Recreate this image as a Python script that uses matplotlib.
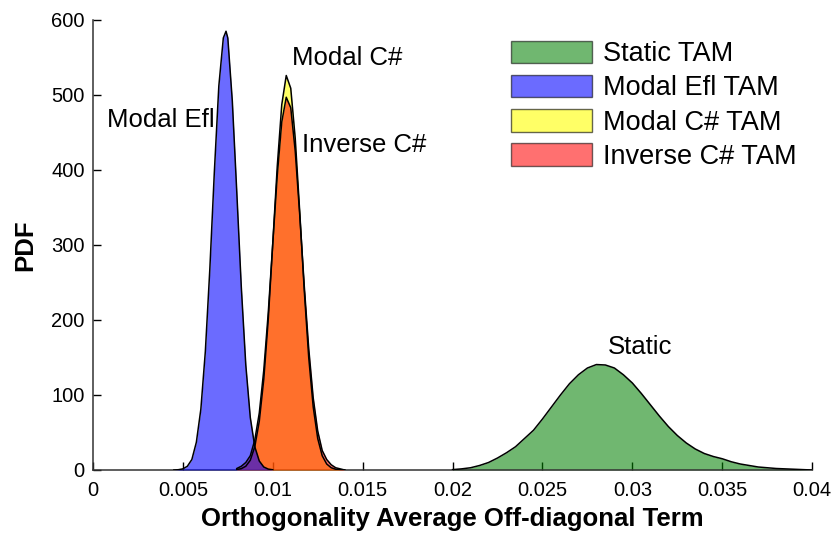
import numpy as np
import matplotlib
matplotlib.use('Agg')
import matplotlib.pyplot as plt
from matplotlib.patches import Patch

plt.rcParams['font.family'] = ['Liberation Sans', 'DejaVu Sans']

# ---- data ----
x_narrow = [0.00450, 0.00475, 0.00500, 0.00525, 0.00550, 0.00575, 0.00600, 0.00625,
            0.00650, 0.00675, 0.00700, 0.00725, 0.00740, 0.00750, 0.00775, 0.00800,
            0.00825, 0.00850, 0.00875, 0.00900, 0.00925, 0.00950, 0.00975, 0.01000]
pdf_modal_efl = [0, 0.4, 1.5, 5, 14, 37, 81, 158,
                 268, 397, 512, 576, 585, 576, 492, 370,
                 244, 140, 70, 31, 12, 4, 1.2, 0.3]

x_csharp = [0.00800, 0.00825, 0.00850, 0.00875, 0.00900, 0.00925, 0.00950, 0.00975,
            0.01000, 0.01025, 0.01050, 0.01075, 0.01100, 0.01125, 0.01150, 0.01175,
            0.01200, 0.01225, 0.01250, 0.01275, 0.01300, 0.01325, 0.01350, 0.01375,
            0.01400]
pdf_modal_c = [0.6, 1.8, 5, 13, 31, 65, 121, 201,
               302, 405, 487, 526, 509, 442, 344, 240,
               150, 84, 42, 19, 8, 3, 1, 0.3,
               0]
pdf_inverse_c = [2, 5, 10, 19, 40, 76, 133, 210,
                 302, 393, 464, 497, 483, 425, 340, 246,
                 162, 96, 52, 26, 14, 7, 3, 1.5,
                 0]

x_static = [0.0200, 0.0205, 0.0210, 0.0215, 0.0220, 0.0225, 0.0230, 0.0235, 0.0240,
            0.0245, 0.0250, 0.0255, 0.0260, 0.0265, 0.0270, 0.0275, 0.0280, 0.0285,
            0.0290, 0.0295, 0.0300, 0.0305, 0.0310, 0.0315, 0.0320, 0.0325, 0.0330,
            0.0335, 0.0340, 0.0345, 0.0350, 0.0355, 0.0360, 0.0365, 0.0370, 0.0375,
            0.0380, 0.0385, 0.0390, 0.0395, 0.0400]
pdf_static = [0.5, 1.5, 3, 6, 10, 16, 23, 31, 42,
              53, 68, 84, 100, 115, 127, 136, 140.6, 140,
              136, 127, 116, 102, 87, 72, 58, 46, 36,
              28, 22, 18, 15, 11, 8, 6, 4, 3,
              2, 1.5, 1, 0.5, 0]

legend_labels = ['Static TAM', 'Modal Efl TAM', 'Modal C# TAM', 'Inverse C# TAM']
xtick_vals = [0, 0.005, 0.01, 0.015, 0.02, 0.025, 0.03, 0.035, 0.04]
xtick_labels = ['0', '0.005', '0.01', '0.015', '0.02', '0.025', '0.03', '0.035', '0.04']
ytick_vals = [0, 100, 200, 300, 400, 500, 600]

# ---- plot ----
fig = plt.figure(figsize=(8.33, 5.33), dpi=100)
ax = fig.add_axes([0.1116, 0.1182, 0.8634, 0.8443])

alpha = 0.56
c_green = (0, 0.5, 0)
c_blue = (0, 0, 1)
c_yellow = (1, 1, 0)
c_red = (1, 0, 0)

ax.fill_between(x_static, pdf_static, color=c_green, alpha=alpha, lw=0, zorder=2)
ax.fill_between(x_csharp, pdf_modal_c, color=c_yellow, alpha=0.6, lw=0, zorder=3)
ax.fill_between(x_csharp, pdf_inverse_c, color=c_red, alpha=alpha, lw=0, zorder=4)
ax.fill_between(x_narrow, pdf_modal_efl, color=c_blue, alpha=0.58, lw=0, zorder=5)

for xs, ys in [(x_static, pdf_static), (x_csharp, pdf_modal_c),
               (x_csharp, pdf_inverse_c), (x_narrow, pdf_modal_efl)]:
    ax.plot(xs, ys, color='black', lw=1.1, zorder=6)

# annotations
ax.text(0.00078, 467, 'Modal Efl', fontsize=18.5, va='center', ha='left')
ax.text(0.01107, 549, 'Modal C#', fontsize=18.5, va='center', ha='left')
ax.text(0.01163, 433, 'Inverse C#', fontsize=18.5, va='center', ha='left')
ax.text(0.0304, 164, 'Static', fontsize=18.5, va='center', ha='center')

handles = [Patch(facecolor=c_green, alpha=alpha, edgecolor='black'),
           Patch(facecolor=c_blue, alpha=0.58, edgecolor='black'),
           Patch(facecolor=c_yellow, alpha=0.6, edgecolor='black'),
           Patch(facecolor=c_red, alpha=alpha, edgecolor='black')]
ax.legend(handles, legend_labels, loc='upper right', bbox_to_anchor=(0.993, 0.978),
          frameon=False, fontsize=19.5, handlelength=3.0, handleheight=0.9,
          handletextpad=0.4, labelspacing=0.28, borderaxespad=0)

ax.set_xlim(0, 0.04)
ax.set_ylim(0, 600)
ax.set_xticks(xtick_vals)
ax.set_xticklabels(xtick_labels)
ax.set_yticks(ytick_vals)
ax.tick_params(direction='in', length=6, width=1, labelsize=14.5, colors='black')
ax.tick_params(axis='x', pad=8)
ax.tick_params(axis='y', pad=6)
for s in ['top', 'right']:
    ax.spines[s].set_visible(False)
for s in ['left', 'bottom']:
    ax.spines[s].set_linewidth(1.1)
    ax.spines[s].set_color('#333333')

ax.set_xlabel('Orthogonality Average Off-diagonal Term', fontsize=18.5, fontweight='bold', labelpad=5)
ax.set_ylabel('PDF', fontsize=18.5, fontweight='bold', labelpad=10)

fig.savefig('out.png', dpi=100)
